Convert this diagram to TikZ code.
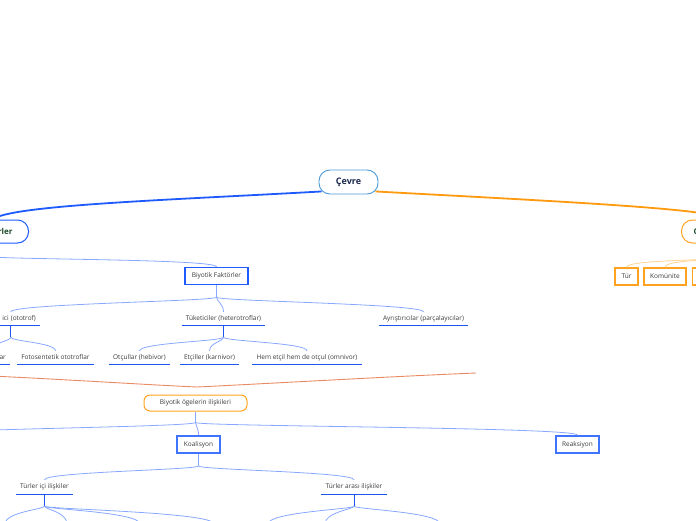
\documentclass[tikz,border=0pt]{standalone}
\usepackage{fontspec}
\setmainfont{Open Sans}
\usetikzlibrary{calc}
\definecolor{navy}{HTML}{1B2A4E}
\definecolor{pillblue}{HTML}{4A9AD8}
\definecolor{mainblue}{HTML}{1E5BFF}
\definecolor{mainorange}{HTML}{FF9A0F}
\definecolor{boxblue}{HTML}{1E5BFF}
\definecolor{boxorange}{HTML}{FFA21F}
\definecolor{linkblue}{HTML}{88A8FF}
\definecolor{linkorange}{HTML}{FFD391}
\definecolor{ulblue}{HTML}{1D55F0}
\definecolor{txt}{HTML}{3A3A3A}
\definecolor{dgreen}{HTML}{1E4A2C}
\definecolor{salmon}{HTML}{E98A62}
\tikzset{
 rootnode/.style={draw=pillblue, line width=0.9pt, rounded corners=11pt, fill=white, minimum width=59pt, minimum height=24pt, inner sep=0pt, font=\bfseries\fontsize{9}{10}\selectfont, text=navy},
 pillnode/.style={line width=1pt, rounded corners=11pt, fill=white, minimum height=23pt, inner ysep=0pt, font=\bfseries\fontsize{8}{9}\selectfont, text=dgreen},
 bluebox/.style={draw=boxblue, line width=1.4pt, fill=white, minimum height=17pt, inner ysep=0pt, inner xsep=2pt, font=\fontsize{6.5}{7.5}\selectfont, text=txt},
 orangebox/.style={draw=boxorange, line width=1.4pt, fill=white, minimum height=17pt, inner ysep=0pt, inner xsep=2pt, font=\fontsize{6.5}{7.5}\selectfont, text=txt},
 orangepill/.style={draw=boxorange, line width=1pt, rounded corners=6pt, fill=white, minimum height=16pt, inner sep=0pt, font=\fontsize{6.5}{7.5}\selectfont, text=txt},
 ulabel/.style={inner xsep=4pt, inner ysep=0pt, minimum height=13pt, font=\fontsize{6.5}{7.5}\selectfont, text=txt},
 uline/.style={draw=ulblue, line width=1.3pt},
 trunk/.style={draw=ulblue, line width=1pt},
 mainlinkb/.style={draw=mainblue, line width=1.8pt},
 mainlinko/.style={draw=mainorange, line width=1.8pt},
 sublink/.style={draw=linkblue, line width=0.8pt},
 sublinko/.style={draw=linkorange, line width=0.8pt},
 crosslink/.style={draw=salmon, line width=0.9pt},
}
\begin{document}
\begin{tikzpicture}[x=1pt,y=-1pt]
\useasboundingbox (0,0) rectangle (696,520);
\clip (0,0) rectangle (696,520);
% nodes
\node[rootnode] (cevre) at (348.5,182) {Çevre};
\node[pillnode, draw=mainblue, anchor=east, inner xsep=16pt, text width=40pt, align=right] (lft) at (29,231.5) {rler};
\node[pillnode, draw=boxorange, anchor=west, inner xsep=12pt, text width=60pt, align=left] (rgt) at (681,231.5) {C};
\node[bluebox, minimum width=63pt] (bf) at (216.5,276) {Biyotik Faktörler};
\node[orangebox, minimum width=23pt] (tur) at (626.5,276.5) {Tür};
\node[orangebox, minimum width=42pt] (kom) at (665,276.5) {Komünite};
\node[orangebox, minimum width=40pt, anchor=west] (third) at (692,276.5) {};
\node[ulabel, anchor=east, text width=62pt, align=right] (oto) at (40,318.5) {ici (ototrof)};
\node[ulabel] (tuk) at (223.5,318.5) {Tüketiciler (heterotroflar)};
\node[ulabel] (ayr) at (423.5,318.5) {Ayrıştırıcılar (parçalayıcılar)};
\node[ulabel, anchor=east, text width=30pt, align=right] (kemo) at (10,357.5) {ar};
\node[ulabel] (foto) at (55.5,357.5) {Fotosentetik ototroflar};
\node[ulabel] (otc) at (139.5,357.5) {Otçullar (hebivor)};
\node[ulabel] (etc) at (209.5,357.5) {Etçiller (karnivor)};
\node[ulabel] (hem) at (307,357.5) {Hem etçil hem de otçul (omnivor)};
\node[orangepill, minimum width=103pt] (bo) at (195.5,403) {Biyotik ögelerin ilişkileri};
\node[bluebox, minimum width=43pt, line width=1.8pt, draw=mainblue!85!white] (ko) at (198.5,444.5) {Koalisyon};
\node[bluebox, minimum width=43pt, line width=1.8pt, draw=mainblue!85!white] (re) at (577.5,444.5) {Reaksiyon};
\node[ulabel, minimum height=14pt] (ti) at (44.5,487) {Türler içi ilişkiler};
\node[ulabel, minimum height=14pt] (ta) at (354,487) {Türler arası ilişkiler};
\foreach \n in {oto,tuk,ayr,kemo,foto,otc,etc,hem,ti,ta}
  \draw[uline] (\n.south west) -- (\n.south east);
% junctions and free ends
\coordinate (lftj) at ($(lft.south)+(0,13)$);
\coordinate (rgtj) at ($(rgt.south)+(0,14)$);
\coordinate (bfj) at ($(bf.south)+(0,12)$);
\coordinate (otb) at ($(oto.south)+(6,0)$);
\coordinate (otn) at ($(oto.north)+(6,0)$);
\coordinate (otj) at ($(otb)+(0,12)$);
\coordinate (tkj) at ($(tuk.south)+(0,12)$);
\coordinate (boj) at ($(bo.south)+(0,11)$);
\coordinate (koj) at ($(ko.south)+(0,12)$);
\coordinate (tij) at ($(ti.south)+(0,12)$);
\coordinate (taj) at ($(ta.south)+(0,12)$);
\coordinate (offl) at (-40,432);
\coordinate (c1) at (5,524);
\coordinate (c2) at (67,524);
\coordinate (c3) at (140,524);
\coordinate (c4) at (214,524);
\coordinate (d1) at (268,524);
\coordinate (d2) at (325,524);
\coordinate (d3) at (440,524);
\coordinate (sl) at (-30,375);
\coordinate (sm) at (197,387);
\coordinate (sr) at (476,373);
% main links
\draw[mainlinkb] ($(cevre.south west)+(3,-3)$) .. controls (170,200) and (10,205) .. (lft.north);
\draw[mainlinko] ($(cevre.south east)+(-3,-3)$) .. controls (550,201) and (723,209) .. (rgt.north);
% left branch
\draw[sublink] (lft.south) -- (lftj) .. controls +(0,3) and +(0,-8) .. (bf.north);
\draw[sublink] (bf.south) -- (bfj);
\draw[sublink] (bfj) .. controls +(0,4) and +(0,-8) .. (otn);
\draw[sublink] (bfj) .. controls +(0,4) and +(0,-8) .. (tuk.north);
\draw[sublink] (bfj) .. controls +(0,4) and +(0,-8) .. (ayr.north);
\draw[trunk] (otb) -- (otj);
\draw[sublink] (otj) .. controls +(0,4) and +(0,-8) .. (kemo.north);
\draw[sublink] (otj) .. controls +(0,4) and +(0,-8) .. (foto.north);
\draw[trunk] (tuk.south) -- (tkj);
\draw[sublink] (tkj) .. controls +(0,4) and +(0,-8) .. (otc.north);
\draw[sublink] (tkj) .. controls +(0,4) and +(0,-8) .. (etc.north);
\draw[sublink] (tkj) .. controls +(0,4) and +(0,-8) .. (hem.north);
% right branch
\draw[sublinko] (rgt.south) -- (rgtj) .. controls +(0,3) and +(0,-8) .. (tur.north);
\draw[sublinko] (rgtj) .. controls +(0,3) and +(0,-8) .. (kom.north);
\draw[sublinko] (rgtj) .. controls +(0,3) and +(0,-8) .. (third.north);
% cross link
\draw[crosslink] (sl) .. controls (60,379) and (150,385) .. (sm) .. controls (260,384) and (400,376) .. (sr);
% relations
\draw[sublink] (bo.south) -- (boj);
\draw[sublink] (boj) .. controls +(0,4) and +(10,-3) .. (offl);
\draw[sublink] (boj) .. controls +(0,4) and +(0,-8) .. (ko.north);
\draw[sublink] (boj) .. controls +(0,4) and +(0,-8) .. (re.north);
\draw[sublink] (ko.south) -- (koj);
\draw[sublink] (koj) .. controls +(0,4) and +(0,-8) .. (ti.north);
\draw[sublink] (koj) .. controls +(0,4) and +(0,-8) .. (ta.north);
\draw[trunk] (ti.south) -- (tij);
\foreach \c in {c1,c2,c3,c4}
  \draw[sublink] (tij) .. controls +(0,3) and +(0,-12) .. (\c);
\draw[trunk] (ta.south) -- (taj);
\foreach \c in {d1,d2,d3}
  \draw[sublink] (taj) .. controls +(0,3) and +(0,-12) .. (\c);
\end{tikzpicture}
\end{document}
